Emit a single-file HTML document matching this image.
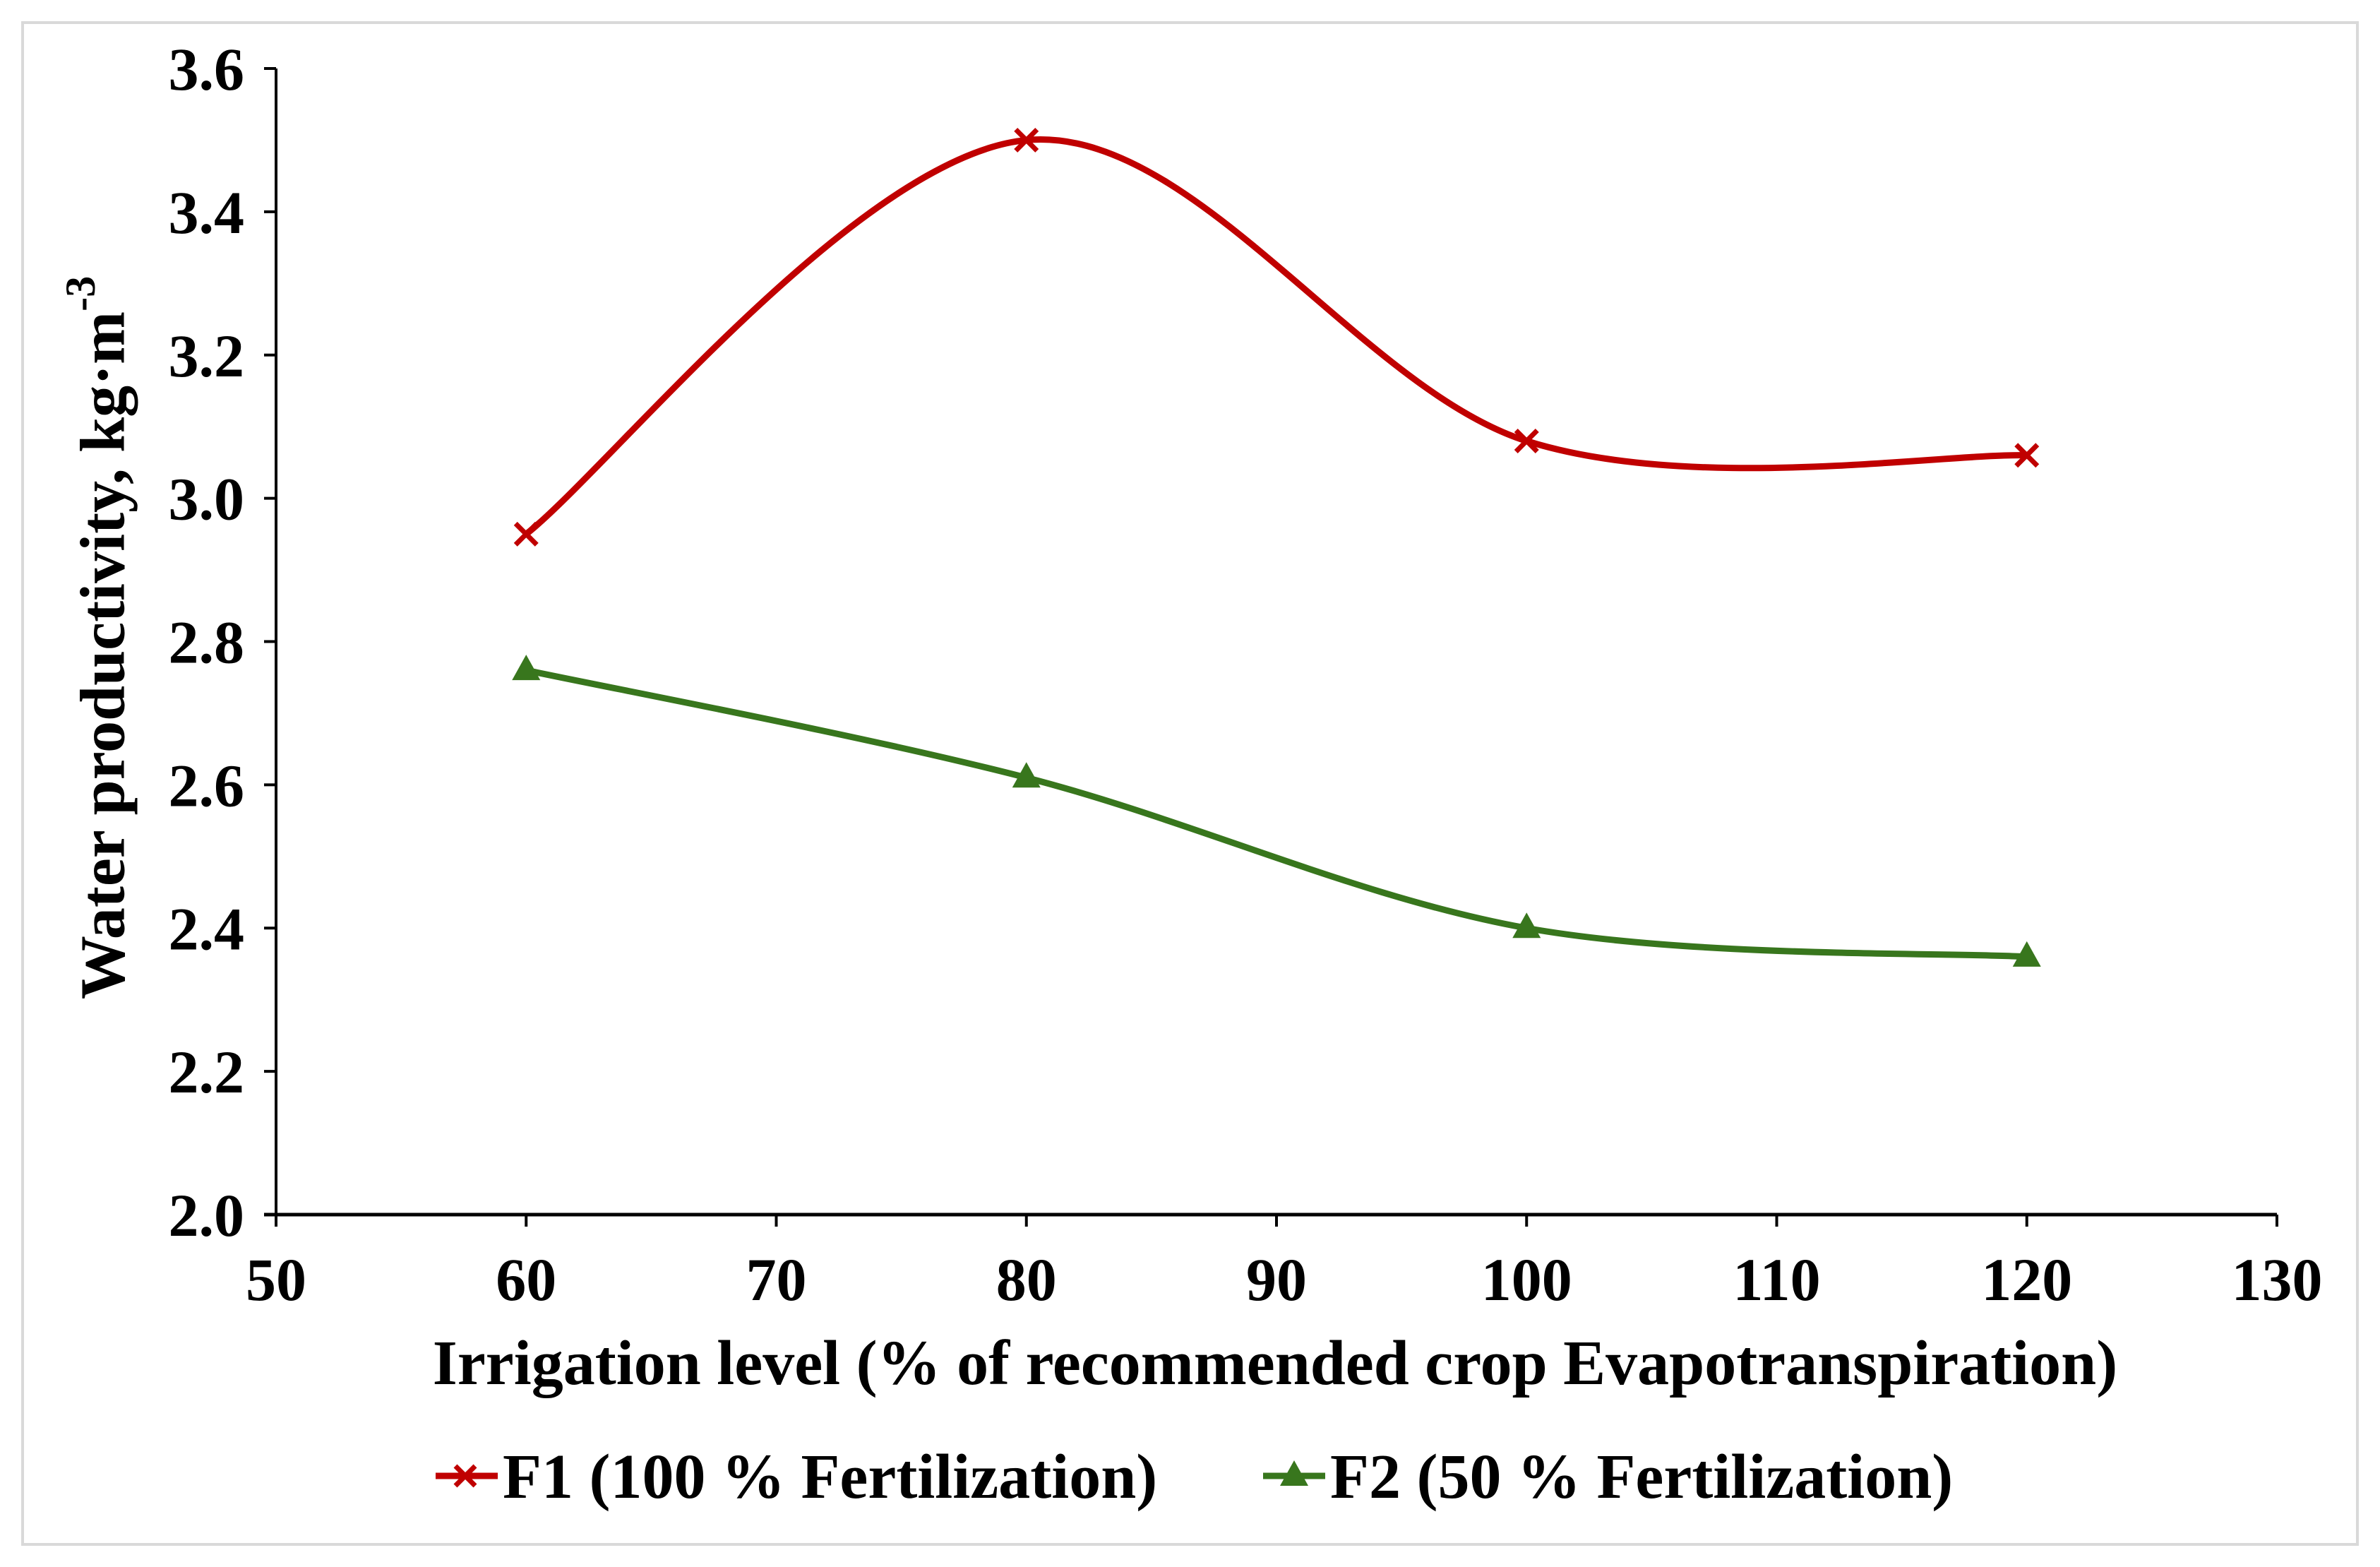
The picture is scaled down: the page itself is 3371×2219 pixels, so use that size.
<!DOCTYPE html>
<html><head><meta charset="utf-8"><style>
body{margin:0;background:#fff}
svg{display:block}
text{font-family:"Liberation Serif",serif;font-weight:bold;fill:#000}
</style></head><body>
<svg id="chart" width="3371" height="2219" viewBox="0 0 3371 2219" xmlns="http://www.w3.org/2000/svg">
<rect x="32" y="32" width="3307" height="2155" fill="#fff" stroke="#d9d9d9" stroke-width="4"/>
<g id="axes"></g>
<g id="series"></g>
<text transform="translate(146,903) rotate(-90)" text-anchor="middle" dominant-baseline="central" font-size="90">Water productivity, kg·m<tspan font-size="60" dy="-32">-3</tspan></text>
<text x="1806" y="1960" text-anchor="middle" font-size="90">Irrigation level (% of recommended crop Evapotranspiration)</text>
<g>
<g>
<line x1="617" y1="2090" x2="705" y2="2090" stroke="#C00000" stroke-width="9"/>
<path d="M645 2076 L673 2104 M673 2076 L645 2104" stroke="#C00000" stroke-width="7"/>
<text x="712" y="2121" font-size="90">F1 (100 % Fertilization)</text>
</g>
<g>
<line x1="1789" y1="2090" x2="1877" y2="2090" stroke="#38761D" stroke-width="9"/>
<polygon points="1833,2068 1853,2104 1813,2104" fill="#38761D"/>
<text x="1884" y="2121" font-size="90">F2 (50 % Fertilization)</text>
</g>
</g>
</svg>
<script>
const xCategories=[60,80,100,120];
const f1Values=[2.95,3.50,3.08,3.06];
const f2Values=[2.76,2.61,2.40,2.36];
const xTicks=[50,60,70,80,90,100,110,120,130];
const yTicks=["2.0","2.2","2.4","2.6","2.8","3.0","3.2","3.4","3.6"];
const NS="http://www.w3.org/2000/svg";
const X0=391,X1=3225,Y0=1720,Y1=97;
function sx(v){return X0+(v-50)/(130-50)*(X1-X0);}
function sy(v){return Y0-(v-2.0)/(3.6-2.0)*(Y0-Y1);}
function mk(tag,attrs,parent){const e=document.createElementNS(NS,tag);for(const k in attrs)e.setAttribute(k,attrs[k]);parent.appendChild(e);return e;}
const axes=document.getElementById('axes');
const ya=mk('line',{x1:X0,y1:Y1,x2:X0,y2:Y0+17,stroke:'#000','stroke-width':4},axes);


const xa=mk('line',{x1:X0-17,y1:Y0,x2:X1,y2:Y0,stroke:'#000','stroke-width':5},axes);


yTicks.forEach(t=>{const y=sy(parseFloat(t));
mk('line',{x1:X0-17,y1:y,x2:X0,y2:y,stroke:'#000','stroke-width':4},axes);
const tx=mk('text',{x:X0-45,y:y+30,'text-anchor':'end','font-size':86},axes);tx.textContent=t;

});
xTicks.forEach(t=>{const x=sx(t);
mk('line',{x1:x,y1:Y0,x2:x,y2:Y0+17,stroke:'#000','stroke-width':4},axes);
const tx=mk('text',{x:x,y:1841,'text-anchor':'middle','font-size':86},axes);tx.textContent=t;

});
function smooth(pts){let d='M'+pts[0][0]+' '+pts[0][1];
for(let i=0;i<pts.length-1;i++){const p0=pts[i-1]||pts[i],p1=pts[i],p2=pts[i+1],p3=pts[i+2]||p2;
const c1=[p1[0]+(p2[0]-p0[0])/6,p1[1]+(p2[1]-p0[1])/6],c2=[p2[0]-(p3[0]-p1[0])/6,p2[1]-(p3[1]-p1[1])/6];
d+=' C'+c1+' '+c2+' '+p2;}return d;}
const ser=document.getElementById('series');
function drawSeries(vals,color,name,marker){
const pts=xCategories.map((c,i)=>[sx(c),sy(vals[i])]);
const p=mk('path',{d:smooth(pts),fill:'none',stroke:color,'stroke-width':9},ser);


pts.forEach(([x,y])=>{let m;
if(marker==='x'){m=mk('path',{d:`M${x-15} ${y-15} L${x+15} ${y+15} M${x+15} ${y-15} L${x-15} ${y+15}`,stroke:color,'stroke-width':7},ser);}
else{m=mk('polygon',{points:`${x},${y-22} ${x+20},${y+14} ${x-20},${y+14}`,fill:color},ser);}

});}
drawSeries(f1Values,'#C00000','f1-series','x');
drawSeries(f2Values,'#38761D','f2-series','tri');
</script>
</body></html>
